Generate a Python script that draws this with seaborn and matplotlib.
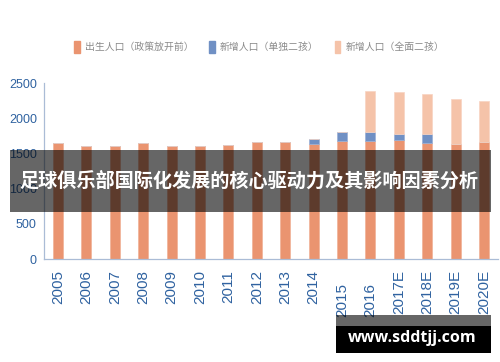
import matplotlib
matplotlib.use("Agg")
import matplotlib.pyplot as plt
import matplotlib.patches as mpatches
import matplotlib.transforms as mtransforms
import numpy as np
import pandas as pd
import seaborn as sns

years = ["2005", "2006", "2007", "2008", "2009", "2010", "2011", "2012",
         "2013", "2014", "2015", "2016", "2017E", "2018E", "2019E", "2020E"]
birth_base = [1651, 1609, 1609, 1643, 1609, 1609, 1619, 1657,
              1657, 1637, 1671, 1676, 1685, 1643, 1628, 1661]
add_single = [0, 0, 0, 0, 0, 0, 0, 0, 0, 67, 127, 122, 85, 137, 0, 0]
add_full = [0, 0, 0, 0, 0, 0, 0, 0, 0, 0, 0, 583, 601, 558, 648, 578]
series_names = ["出生人口（政策放开前）", "新增人口（单独二孩）", "新增人口（全面二孩）"]
yticks = [0, 500, 1000, 1500, 2000, 2500]
title = "足球俱乐部国际化发展的核心驱动力及其影响因素分析"
watermark = "www.sddtjj.com"

colors = ["#EA9470", "#7090C4", "#F5C3A9"]

sns.set_style("white")
plt.rcParams["font.family"] = ["Noto Sans CJK SC", "DejaVu Sans"]

fig = plt.figure(figsize=(5.0, 3.62), dpi=100)
ax = fig.add_axes([0.0876, 0.2845, 0.9964 - 0.0876, 0.7707 - 0.2845])

df = pd.DataFrame({"year": years, "base": birth_base,
                   "single": add_single, "full": add_full})
bottom2 = np.array(birth_base)
bottom3 = bottom2 + np.array(add_single)

sns.barplot(data=df, x="year", y="base", order=years, color=colors[0],
            width=0.35, ax=ax, saturation=1,
            edgecolor="#F0B296", linewidth=0.5)
sns.barplot(data=df, x="year", y="single", order=years, color=colors[1],
            width=0.35, ax=ax, saturation=1, bottom=bottom2,
            edgecolor="#9AB0D6", linewidth=0.5)
sns.barplot(data=df, x="year", y="full", order=years, color=colors[2],
            width=0.35, ax=ax, saturation=1, bottom=bottom3,
            edgecolor="#F8D4C2", linewidth=0.5)
if ax.get_legend() is not None:
    ax.get_legend().remove()

ax.set_xlim(-0.5, 15.25)
ax.set_ylim(0, 2500)
ax.set_xlabel("")
ax.set_ylabel("")
ax.set_yticks(yticks)
ax.set_yticklabels([str(v) for v in yticks])
for s in ["top", "right"]:
    ax.spines[s].set_visible(False)
for s in ["left", "bottom"]:
    ax.spines[s].set_color("#AABCD6")
    ax.spines[s].set_linewidth(0.9)

tick_color = "#2F62A0"
ax.tick_params(axis="y", length=2, width=0.8, color="#9AAAC0", pad=3,
               labelsize=9, labelcolor=tick_color)
for lab in ax.get_yticklabels():
    lab.set_family(["Liberation Sans Narrow", "Liberation Sans"])

ax.tick_params(axis="x", which="major", length=0, pad=8, labelsize=11,
               labelcolor=tick_color)
ax.set_xticks(np.arange(len(years)))
ax.set_xticklabels(years, rotation=90, va="top", ha="center")
ax.set_xticks(np.arange(len(years)) + 0.5, minor=True)
ax.tick_params(axis="x", which="minor", direction="in", length=5, width=0.9,
               color="#B8C8DE")
for lab in ax.get_xticklabels():
    lab.set_family(["Liberation Sans", "DejaVu Sans"])
    if lab.get_text() in ("2015", "2016"):
        off = mtransforms.ScaledTranslation(0, -13 / 100, fig.dpi_scale_trans)
        lab.set_transform(lab.get_transform() + off)

handles = [mpatches.Patch(color=c) for c in colors]
leg = fig.legend(handles, series_names, loc="center", bbox_to_anchor=(0.518, 0.870),
                 ncol=3, frameon=False, handlelength=0.6, handleheight=1.5,
                 handletextpad=0.5, columnspacing=1.6, fontsize=7.1,
                 labelcolor="#8A8A8A")

# title banner
fig.patches.append(mpatches.Rectangle((0.02, 0.4144), 0.962, 0.1713,
                                      transform=fig.transFigure, facecolor="black",
                                      alpha=0.6, edgecolor="none", zorder=5))
fig.text(0.498, 0.5, title, color="white", fontsize=13.8, fontweight="bold",
         ha="center", va="center", zorder=6,
         family=["Noto Sans CJK SC", "DejaVu Sans"])

# watermark box
fig.patches.append(mpatches.Rectangle((336 / 500, 1 - 326 / 362), 155 / 500, 11 / 362,
                                      transform=fig.transFigure, facecolor="black",
                                      alpha=0.6, edgecolor="none", zorder=5))
fig.patches.append(mpatches.Rectangle((336 / 500, 1 - 353 / 362), 155 / 500, 27 / 362,
                                      transform=fig.transFigure, facecolor="black",
                                      edgecolor="none", zorder=5))
fig.text(412.5 / 500, 1 - 338 / 362, watermark, color="white", fontsize=11.5,
         fontweight="bold", ha="center", va="center", zorder=6,
         family=["Open Sans", "DejaVu Sans"])

fig.savefig("out.png", dpi=100)
